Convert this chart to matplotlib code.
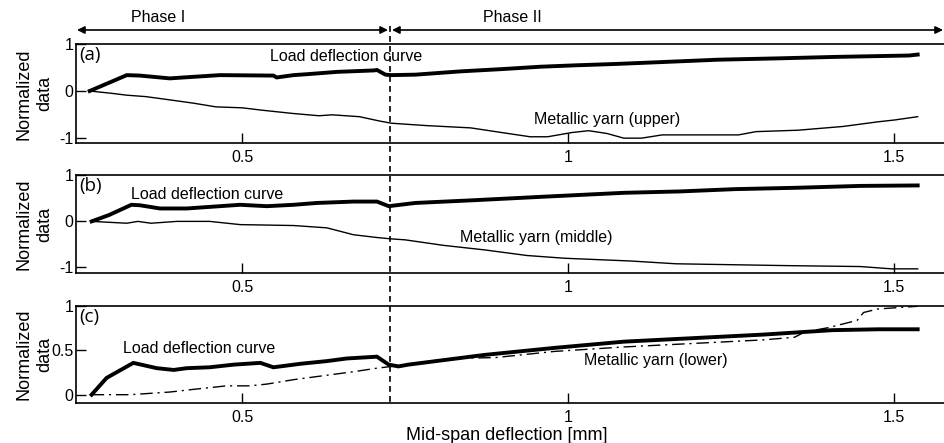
import matplotlib.pyplot as plt
from matplotlib.lines import Line2D

plt.rcParams['font.family'] = ['Liberation Sans', 'DejaVu Sans']

# panel (a): load deflection curve and upper metallic yarn
a_load_x = [0.266, 0.323, 0.343, 0.389, 0.41, 0.466, 0.548, 0.553, 0.579, 0.6, 0.646, 0.702, 0.707,
            0.72, 0.729, 0.766, 0.835, 0.9, 0.958, 1.012, 1.075, 1.145, 1.23, 1.326, 1.41, 1.524, 1.537]
a_load_y = [0.0, 0.34, 0.33, 0.27, 0.29, 0.34, 0.33, 0.29, 0.34, 0.36, 0.41, 0.44, 0.45,
            0.35, 0.34, 0.35, 0.42, 0.47, 0.52, 0.55, 0.58, 0.62, 0.67, 0.7, 0.73, 0.76, 0.78]
a_yarn_x = [0.266, 0.3, 0.323, 0.352, 0.389, 0.425, 0.46, 0.5, 0.53, 0.577, 0.618, 0.638, 0.68, 0.71,
            0.729, 0.782, 0.851, 0.889, 0.942, 0.969, 1.006, 1.032, 1.06, 1.086, 1.113, 1.145, 1.262,
            1.289, 1.353, 1.422, 1.476, 1.502, 1.537]
a_yarn_y = [0.0, -0.05, -0.09, -0.12, -0.19, -0.26, -0.34, -0.36, -0.41, -0.48, -0.53, -0.51, -0.55, -0.64,
            -0.69, -0.74, -0.79, -0.87, -0.98, -0.98, -0.89, -0.85, -0.91, -1.01, -1.01, -0.94, -0.94,
            -0.87, -0.84, -0.76, -0.66, -0.62, -0.55]

# panel (b): load deflection curve and middle metallic yarn
b_load_x = [0.269, 0.296, 0.33, 0.343, 0.374, 0.415, 0.435, 0.497, 0.538, 0.579, 0.615, 0.671, 0.707,
            0.725, 0.766, 0.857, 0.969, 1.086, 1.172, 1.257, 1.353, 1.449, 1.537]
b_load_y = [0.0, 0.14, 0.36, 0.35, 0.28, 0.28, 0.3, 0.36, 0.33, 0.36, 0.4, 0.43, 0.43,
            0.33, 0.4, 0.46, 0.54, 0.62, 0.65, 0.7, 0.73, 0.77, 0.78]
b_yarn_x = [0.269, 0.323, 0.34, 0.36, 0.4, 0.45, 0.497, 0.579, 0.63, 0.671, 0.707, 0.729, 0.75,
            0.809, 0.873, 0.937, 0.995, 1.097, 1.166, 1.337, 1.449, 1.497, 1.537]
b_yarn_y = [0.0, -0.04, 0.0, -0.04, 0.0, 0.0, -0.07, -0.09, -0.14, -0.29, -0.35, -0.38, -0.4,
            -0.52, -0.62, -0.74, -0.8, -0.86, -0.92, -0.96, -0.98, -1.03, -1.03]

# panel (c): load deflection curve and lower metallic yarn
c_load_x = [0.269, 0.292, 0.333, 0.369, 0.395, 0.415, 0.45, 0.487, 0.528, 0.548, 0.59, 0.63, 0.661,
            0.707, 0.725, 0.74, 0.755, 0.872, 0.98, 1.086, 1.193, 1.3, 1.406, 1.476, 1.537]
c_load_y = [0.0, 0.19, 0.36, 0.3, 0.28, 0.3, 0.31, 0.34, 0.36, 0.31, 0.35, 0.38, 0.41,
            0.43, 0.34, 0.32, 0.34, 0.45, 0.53, 0.6, 0.64, 0.68, 0.73, 0.74, 0.74]
c_yarn_x = [0.269, 0.328, 0.389, 0.425, 0.476, 0.512, 0.538, 0.579, 0.63, 0.671, 0.707, 0.73, 0.82,
            0.889, 0.98, 1.086, 1.193, 1.3, 1.348, 1.364, 1.401, 1.422, 1.444, 1.454, 1.476, 1.537]
c_yarn_y = [0.0, 0.0, 0.03, 0.06, 0.1, 0.1, 0.12, 0.17, 0.22, 0.26, 0.3, 0.32, 0.41,
            0.42, 0.49, 0.54, 0.58, 0.62, 0.65, 0.71, 0.76, 0.8, 0.84, 0.93, 0.97, 1.0]

panels = [
    ('(a)', a_load_x, a_load_y, a_yarn_x, a_yarn_y, '-', 'Metallic yarn (upper)',
     (0.543, 0.74), (0.948, -0.62), [-1, 0, 1], ['-1', '0', '1'], (-1.12, 1.0)),
    ('(b)', b_load_x, b_load_y, b_yarn_x, b_yarn_y, '-', 'Metallic yarn (middle)',
     (0.33, 0.58), (0.835, -0.36), [-1, 0, 1], ['-1', '0', '1'], (-1.12, 1.0)),
    ('(c)', c_load_x, c_load_y, c_yarn_x, c_yarn_y, (0, (9, 3.5, 1.5, 3.5)), 'Metallic yarn (lower)',
     (0.317, 0.52), (1.025, 0.39), [0, 0.5, 1], ['0', '0.5', '1'], (-0.094, 1.0)),
]

W, H = 944, 443
fig = plt.figure(figsize=(W / 100, H / 100), dpi=100)

# axes boxes in pixels (left, top, bottom); right edge runs off the picture
boxes = [(76, 44.3, 143.3), (76, 175.3, 273), (76, 306.3, 403)]
right_px = 947

for (tag, lx, ly, yx, yy, ls, yarn_label, lpos, ypos, yt, ytl, ylim), (l, t, b) in zip(panels, boxes):
    ax = fig.add_axes([l / W, 1 - b / H, (right_px - l) / W, (b - t) / H])
    ax.plot(lx, ly, color='black', lw=2.8, solid_joinstyle='miter')
    ax.plot(yx, yy, color='black', lw=1.0, linestyle=ls)
    ax.set_xlim(0.245, 1.582)
    ax.set_ylim(*ylim)
    ax.set_xticks([0.5, 1, 1.5])
    ax.set_xticklabels(['0.5', '1', '1.5'])
    ax.set_yticks(yt)
    ax.set_yticklabels(ytl)
    ax.tick_params(direction='in', length=7, width=1.0, labelsize=11.5, pad=5)
    ax.tick_params(axis='y', pad=2)
    for s in ax.spines.values():
        s.set_linewidth(1.2)
    ax.spines['right'].set_visible(False)
    ax.text(lpos[0], lpos[1], 'Load deflection curve', fontsize=11.5, va='center', ha='left')
    ax.text(ypos[0], ypos[1], yarn_label, fontsize=11.5, va='center', ha='left')
    ax.text(0.004, 0.98, tag, transform=ax.transAxes, fontsize=13.5, va='top', ha='left',
            family=['Open Sans', 'DejaVu Sans'])
    fig.text(34 / W, 1 - (t + b) / 2 / H, 'Normalized\ndata', rotation=90, ha='center', va='center',
             fontsize=13, multialignment='center', linespacing=1.3)

fig.text(0.537, 1 - 435 / H, 'Mid-span deflection [mm]', ha='center', va='center', fontsize=13)

# phase arrows and divider
arrow_y = 1 - 30 / H
split_x = 390 / W
ap = dict(arrowstyle='<|-|>', color='black', lw=1.2, shrinkA=0, shrinkB=0, mutation_scale=11)
fig.axes[0].annotate('', xy=(split_x - 2 / W, arrow_y), xytext=(77 / W, arrow_y),
                     xycoords='figure fraction', textcoords='figure fraction', arrowprops=ap,
                     annotation_clip=False)
fig.axes[0].annotate('', xy=(943 / W, arrow_y), xytext=(split_x + 2 / W, arrow_y),
                     xycoords='figure fraction', textcoords='figure fraction', arrowprops=ap,
                     annotation_clip=False)
fig.text(158 / W, 1 - 18 / H, 'Phase I', ha='center', va='center', fontsize=11.5)
fig.text(512 / W, 1 - 18 / H, 'Phase II', ha='center', va='center', fontsize=11.5)
fig.add_artist(Line2D([split_x, split_x], [1 - 26 / H, 1 - 403 / H], transform=fig.transFigure,
                      color='black', lw=1.2, linestyle=(0, (3.5, 2.5))))

fig.savefig('out.png', dpi=100)
